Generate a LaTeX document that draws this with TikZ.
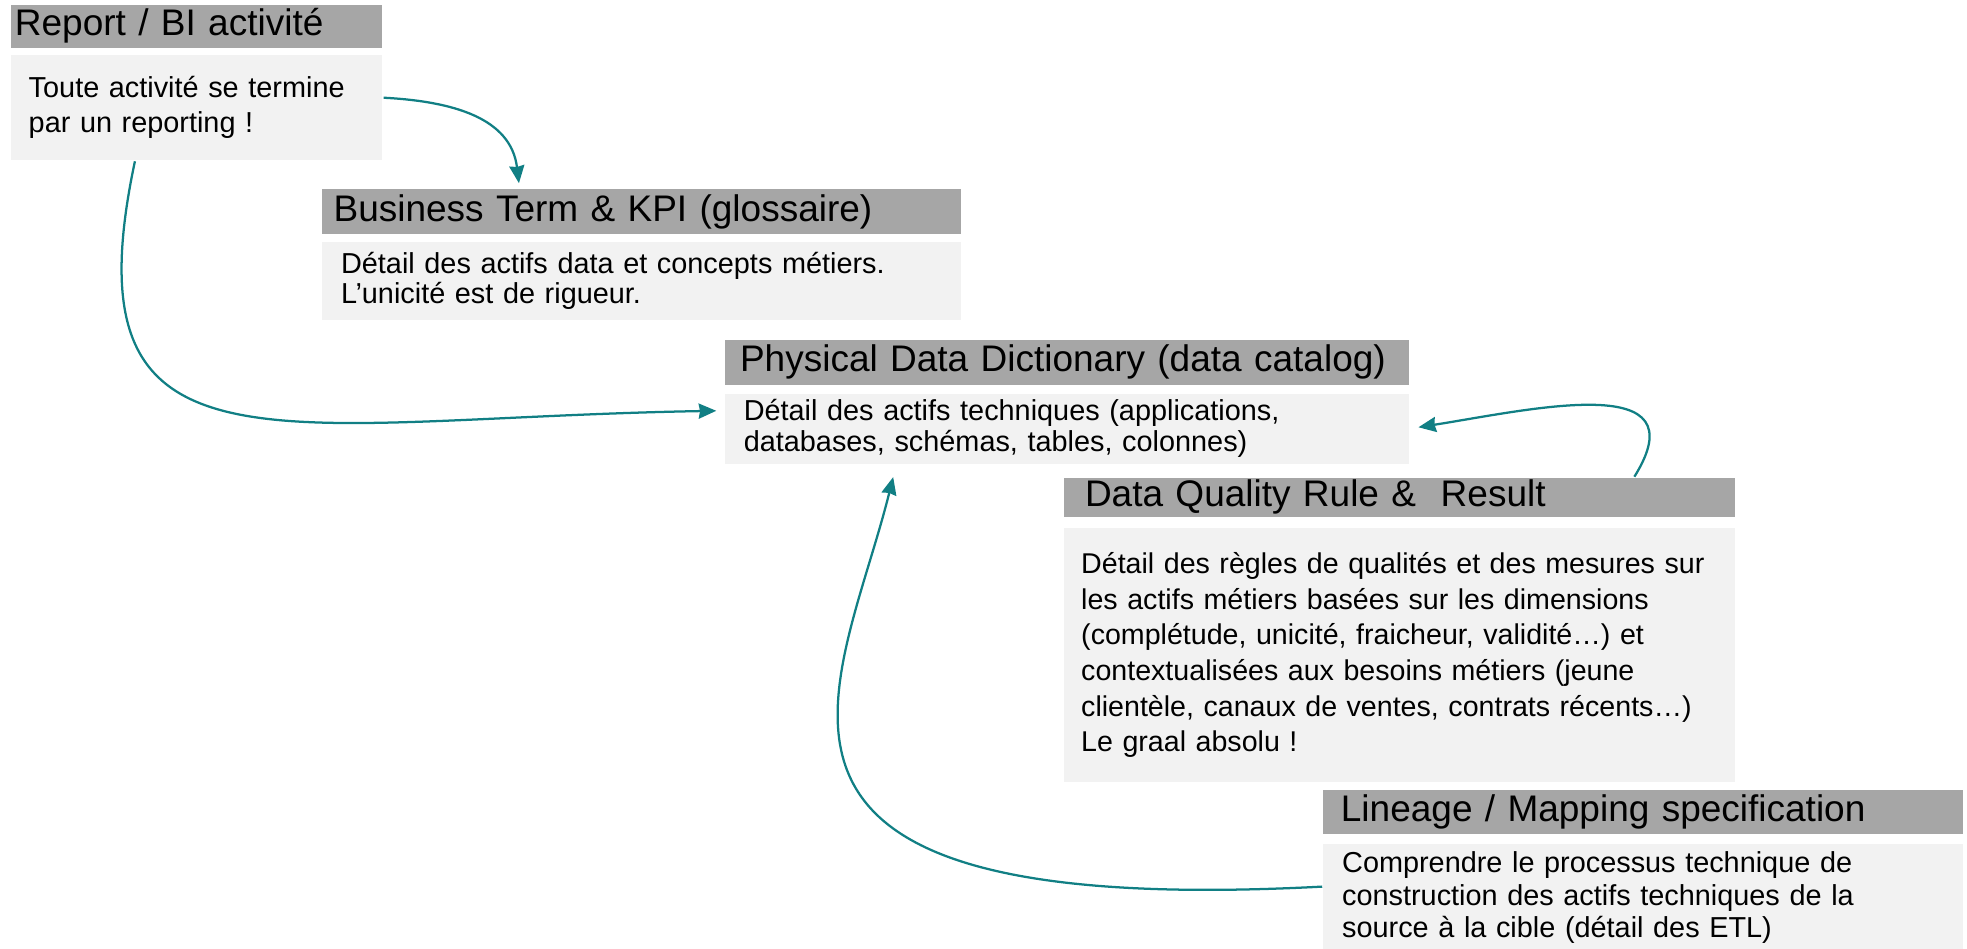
\documentclass[tikz,border=0pt]{standalone}
\usepackage{fontspec}
\setmainfont{Liberation Sans}
\usetikzlibrary{arrows.meta,positioning}
\definecolor{linkcol}{RGB}{17,127,132}
\definecolor{hdrgray}{RGB}{166,166,166}
\definecolor{boxgray}{RGB}{242,242,242}

\begin{document}
\begin{tikzpicture}[->,>={Stealth[length=14pt,width=12pt,inset=1pt]},x=1pt,y=1pt,
                    line width=1.8pt,
                    hdr/.style={fill=hdrgray,anchor=north west,align=left,inner ysep=0pt,
                                font=\fontsize{29.5}{34}\selectfont},
                    txt/.style={fill=boxgray,align=left,inner ysep=0pt,
                                font=\fontsize{23}{28}\selectfont}]
                \useasboundingbox (0,0) rectangle (1568,756);
                % headers and texts
                \node [hdr,minimum width=296pt,minimum height=34pt,text width=290pt,inner xsep=3pt] (0h) at (8,753) {Report / BI activité};
                \node [txt,below=4pt of 0h.south west,anchor=north west,minimum width=296pt,minimum height=84pt,text width=268pt,inner xsep=14pt] (0) {Toute activité se termine\\par un reporting !};
                \node [hdr,minimum width=509pt,minimum height=36pt,text width=491pt,inner xsep=9pt] (1h) at (256,606) {Business Term \& KPI (glossaire)};
                \node [txt,below=4pt of 1h.south west,anchor=north west,minimum width=509pt,minimum height=62pt,text width=479pt,inner xsep=15pt,font=\fontsize{23}{24}\selectfont] (1) {Détail des actifs data et concepts métiers.\\L’unicité est de rigueur.};
                \node [hdr,minimum width=545pt,minimum height=36pt,text width=521pt,inner xsep=12pt] (2h) at (577,486) {Physical Data Dictionary (data catalog)};
                \node [txt,below=5pt of 2h.south west,anchor=north west,minimum width=545pt,minimum height=56pt,text width=515pt,inner xsep=15pt,font=\fontsize{23}{25}\selectfont] (2) {Détail des actifs techniques (applications,\\databases, schémas, tables, colonnes)};
                \node [hdr,minimum width=535pt,minimum height=31pt,text width=501pt,inner xsep=17pt] (3h) at (847,376) {Data Quality Rule \&\ \ Result};
                \node [txt,below=7pt of 3h.south west,anchor=north west,minimum width=535pt,minimum height=203pt,text width=507pt,inner xsep=14pt,font=\fontsize{22.8}{28.4}\selectfont] (3) {Détail des règles de qualités et des mesures sur\\les actifs métiers basées sur les dimensions\\(complétude, unicité, fraicheur, validité…) et\\contextualisées aux besoins métiers (jeune\\clientèle, canaux de ventes, contrats récents…)\\Le graal absolu !};
                \node [hdr,minimum width=510pt,minimum height=35pt,text width=482pt,inner xsep=14pt] (4h) at (1054,127) {Lineage / Mapping specification};
                \node [txt,below=6pt of 4h.south west,anchor=north west,minimum width=510pt,minimum height=86pt,text width=480pt,inner xsep=15pt,font=\fontsize{23}{26}\selectfont] (4) {Comprendre le processus technique de\\construction des actifs techniques de la\\source à la cible (détail des ETL)};
                % links
                \path [color=linkcol]
                (0.3)   edge [out=-3,in=97,looseness=1.1,shorten >=4pt] (1h.169)
                (0.221) edge [out=258,in=181,out looseness=1.35,in looseness=1.8,shorten >=6pt] (2.177)
                (3h.5)  edge [out=58,in=9,looseness=1.4,shorten >=7pt] (2.east)
                (4.178) edge [out=183,in=256,out looseness=2.7,in looseness=1.0,shorten >=10pt] (2.192);
            \end{tikzpicture}
\end{document}
